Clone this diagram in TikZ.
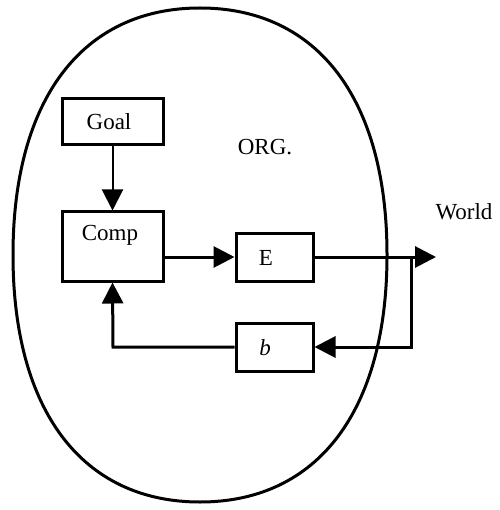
\documentclass[tikz,border=0pt]{standalone}
\usepackage{fontspec}
\setmainfont{Liberation Serif}
\usetikzlibrary{arrows.meta}
\begin{document}
\begin{tikzpicture}[x=1pt,y=-1pt,
  box/.style={draw,line width=3pt,rectangle,inner sep=0pt},
  lbl/.style={inner sep=0pt,font=\fontsize{23}{26}\selectfont},
  conn/.style={line width=3pt},
  tip/.style={-{Triangle[length=21pt,width=21pt]}}]
  \useasboundingbox (0,0) rectangle (499,510);
  % organisation boundary (slightly squarish oval)
  \def\k{0.63}
  \draw[line width=3pt]
    (387,255) .. controls (387,255+\k*247) and (200+\k*187,502) .. (200,502)
              .. controls (200-\k*187,502) and (13,255+\k*247) .. (13,255)
              .. controls (13,255-\k*247) and (200-\k*187,8) .. (200,8)
              .. controls (200+\k*187,8) and (387,255-\k*247) .. (387,255) -- cycle;
  % blocks
  \node[box,minimum width=101pt,minimum height=46pt] (goal) at (112.5,122) {};
  \node[lbl] (goaltxt) at (109,122) {Goal};
  \node[box,minimum width=101pt,minimum height=69pt] (comp) at (112.5,246.5) {};
  \node[lbl] (comptxt) at (110,235) {Comp};
  \node[box,minimum width=77pt,minimum height=48pt] (e) at (274.5,257) {};
  \node[lbl] (etxt) at (266,258) {E};
  \node[box,minimum width=77pt,minimum height=48pt] (b) at (274.5,347) {};
  \node[lbl] (btxt) at (265,348) {\textit{b}};
  \node[lbl] (org) at (265,147) {ORG.};
  \node[lbl] (world) at (464,212) {World};
  \coordinate (out) at (436,257);
  \coordinate (tap) at (411,257);
  \coordinate (tapdown) at (411,347);
  \coordinate (back) at (113,347);
  % connectors
  \draw[line width=2pt,tip] (goal.south) -- (comp.north);
  \draw[conn,tip] (comp.east |- e.west) -- (e.west);
  \draw[conn,tip] (e.east) -- (out);
  \draw[conn,tip] (tap) -- (tapdown) -- (b.east);
  \draw[conn,tip] (b.west) -- (back) -- (comp.south);
\end{tikzpicture}
\end{document}
